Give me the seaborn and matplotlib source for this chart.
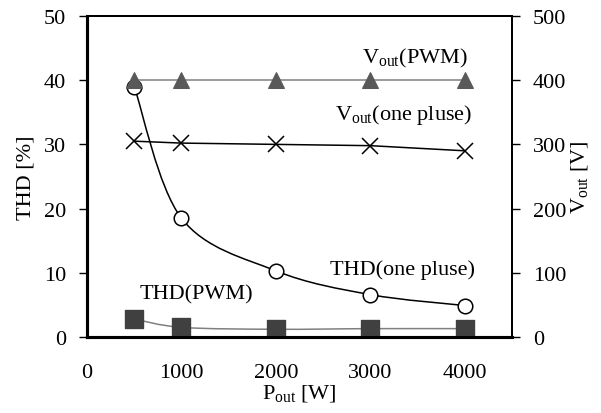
import numpy as np
import pandas as pd
import seaborn as sns
import matplotlib.pyplot as plt
from matplotlib.path import Path
from matplotlib.patches import PathPatch

p_out = [500, 1000, 2000, 3000, 4000]
thd_one = [39.0, 18.5, 10.3, 6.6, 4.9]
thd_pwm = [2.8, 1.5, 1.2, 1.3, 1.3]
vout_pwm = [400, 400, 400, 400, 400]
vout_one = [305, 302, 300, 298, 290]

sns.set_style("ticks", {'axes.edgecolor': 'black', 'xtick.color': 'black',
                        'ytick.color': 'black', 'text.color': 'black',
                        'axes.labelcolor': 'black'})
plt.rcParams['font.family'] = ['Liberation Serif', 'DejaVu Serif']
plt.rcParams['mathtext.default'] = 'regular'
FS = 16
plt.rcParams['font.size'] = FS


def smooth_path(x, y):
    # excel-like smoothed line as cubic bezier segments
    pts = np.column_stack([x, y]).astype(float)
    ext = np.vstack([pts[0], pts, pts[-1]])
    verts = [pts[0]]
    codes = [Path.MOVETO]
    for i in range(len(pts) - 1):
        p0, p1, p2, p3 = ext[i], ext[i + 1], ext[i + 2], ext[i + 3]
        verts += [p1 + (p2 - p0) / 6, p2 - (p3 - p1) / 6, p2]
        codes += [Path.CURVE4] * 3
    return Path(verts, codes)


fig = plt.figure(figsize=(6.01, 4.14), dpi=100)
ax = fig.add_axes([0.1448, 0.1836, 0.7072, 0.7754])
ax2 = ax.twinx()

df = pd.DataFrame({'P': p_out, 'thd_one': thd_one, 'thd_pwm': thd_pwm,
                   'vout_pwm': vout_pwm, 'vout_one': vout_one})

ax.add_patch(PathPatch(smooth_path(p_out, thd_one), fill=False, lw=1.1, color='black', zorder=2))
ax.add_patch(PathPatch(smooth_path(p_out, thd_pwm), fill=False, lw=1.1, color='#808080', zorder=2))
sns.scatterplot(data=df, x='P', y='thd_one', ax=ax, marker='o', s=110,
                facecolor='white', edgecolor='black', linewidth=1.1, zorder=3)
sns.scatterplot(data=df, x='P', y='thd_pwm', ax=ax, marker='s', s=150,
                color='#404040', edgecolor='#404040', zorder=3)

sns.lineplot(data=df, x='P', y='vout_pwm', ax=ax2, color='#808080', lw=1.1,
             marker='^', markersize=12, markerfacecolor='#595959', markeredgecolor='#595959')
sns.lineplot(data=df, x='P', y='vout_one', ax=ax2, color='black', lw=1.1,
             marker='x', markersize=11, markeredgewidth=1.1, markeredgecolor='black')

ax.set_xlim(0, 4500)
ax.set_ylim(0, 50)
ax2.set_ylim(0, 500)
ax.set_xticks([0, 1000, 2000, 3000, 4000])
ax.set_yticks([0, 10, 20, 30, 40, 50])
ax2.set_yticks([0, 100, 200, 300, 400, 500])

ax.set_xlabel(r'P$_{out}$ [W]', fontsize=FS, labelpad=0)
ax.set_ylabel('THD [%]', fontsize=FS, labelpad=6)
ax2.set_ylabel(r'V$_{out}$ [V]', fontsize=FS, labelpad=2)

ax.tick_params(axis='x', length=0, pad=19, labelsize=FS)
ax.tick_params(axis='y', length=6, width=1, direction='out', pad=9, labelsize=FS)
ax2.tick_params(axis='y', length=6, width=1, direction='out', pad=9, labelsize=FS)

for a in (ax, ax2):
    a.spines['left'].set_linewidth(2.2)
    a.spines['bottom'].set_linewidth(2.2)
    a.spines['top'].set_visible(True)
    a.spines['right'].set_visible(True)
    a.spines['top'].set_linewidth(1.4)
    a.spines['right'].set_linewidth(1.4)

ax.text(3470, 43.6, r'V$_{out}$(PWM)', ha='center', va='center', fontsize=FS)
ax.text(3350, 34.7, r'V$_{out}$(one pluse)', ha='center', va='center', fontsize=FS)
ax.text(3340, 10.6, 'THD(one pluse)', ha='center', va='center', fontsize=FS)
ax.text(1160, 6.7, 'THD(PWM)', ha='center', va='center', fontsize=FS)

fig.savefig('out.png', dpi=100)
